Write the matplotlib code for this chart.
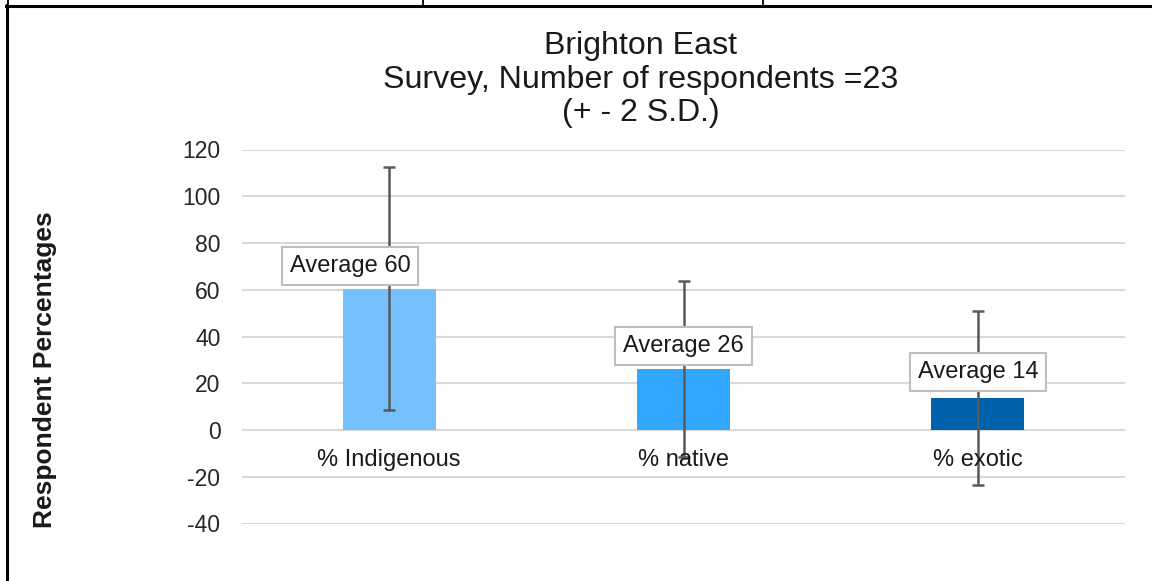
import matplotlib

matplotlib.use("Agg")
import matplotlib.pyplot as plt
from matplotlib.lines import Line2D

plt.rcParams["font.family"] = ["Liberation Sans", "DejaVu Sans"]
plt.rcParams["axes.unicode_minus"] = False

# data
categories = ["% Indigenous", "% native", "% exotic"]
averages = [60.4, 26.1, 13.8]
two_sd = [52.0, 37.6, 37.2]
bar_colors = ["#75C1FF", "#33A6FF", "#0062AC"]
yticks = [-40, -20, 0, 20, 40, 60, 80, 100, 120]

W, H = 1152, 581
fig = plt.figure(figsize=(W / 100, H / 100), dpi=100)
fig.patch.set_facecolor("white")


def fx(px):
    return px / W


def fy(py):
    return 1 - py / H


# plot area: x 242..1125, y(120)=149.5 .. y(-40)=523.5
ax = fig.add_axes([fx(242), fy(523.5), fx(1125 - 242), (523.5 - 149.5) / H])
ax.set_xlim(-0.5, len(categories) - 0.5)
ax.set_ylim(yticks[0], yticks[-1])
ax.set_yticks(yticks)
ax.set_xticks([])
ax.tick_params(axis="y", length=0, pad=15.5, labelsize=16.5, labelcolor="#262626")
for s in ax.spines.values():
    s.set_visible(False)
ax.grid(axis="y", color="#d9d9d9", lw=1.5, zorder=0)
ax.set_axisbelow(True)

xs = list(range(len(categories)))
ax.bar(xs, averages, width=0.316, color=bar_colors, zorder=2)
ax.errorbar(xs, averages, yerr=two_sd, fmt="none", ecolor="#595959",
            elinewidth=1.8, capsize=4.2, capthick=1.8, zorder=3)

# category labels sit just under the zero line
for x, c in zip(xs, categories):
    ax.annotate(c, xy=(x, 0), xytext=(0, -21.5), textcoords="offset points",
                ha="center", va="center", fontsize=17, color="#1a1a1a", zorder=4)

# data label boxes
label_offsets = [(-28, 16.5), (0, 16.5), (0, 18.5)]
for x, v, off in zip(xs, averages, label_offsets):
    ax.annotate(f"Average {round(v)}", xy=(x, v), xytext=off, textcoords="offset points",
                ha="center", va="center", fontsize=17, color="#1a1a1a", zorder=5,
                bbox=dict(boxstyle="square,pad=0.33", fc="white", ec="#bfbfbf", lw=1.5))

# title lines
for txt, py in [("Brighton East", 46), ("Survey, Number of respondents =23", 80), ("(+ - 2 S.D.)", 113)]:
    fig.text(fx(641), fy(py), txt, ha="center", va="center", fontsize=23.1, color="#1a1a1a")

fig.text(fx(45), fy(370), "Respondent Percentages", rotation=90, ha="center", va="center",
         fontsize=19, fontweight="bold", color="#1a1a1a")

# surrounding table borders
k = dict(color="black", transform=fig.transFigure)
fig.add_artist(Line2D([fx(6), 1], [fy(5.5), fy(5.5)], lw=2.2, **k))
fig.add_artist(Line2D([fx(6.5), fx(6.5)], [fy(5), 0], lw=2.2, **k))
for px in [7.5, 423, 763]:
    fig.add_artist(Line2D([fx(px), fx(px)], [1, fy(5)], lw=1.3, **k))

fig.savefig("out.png", dpi=100, facecolor="white")
